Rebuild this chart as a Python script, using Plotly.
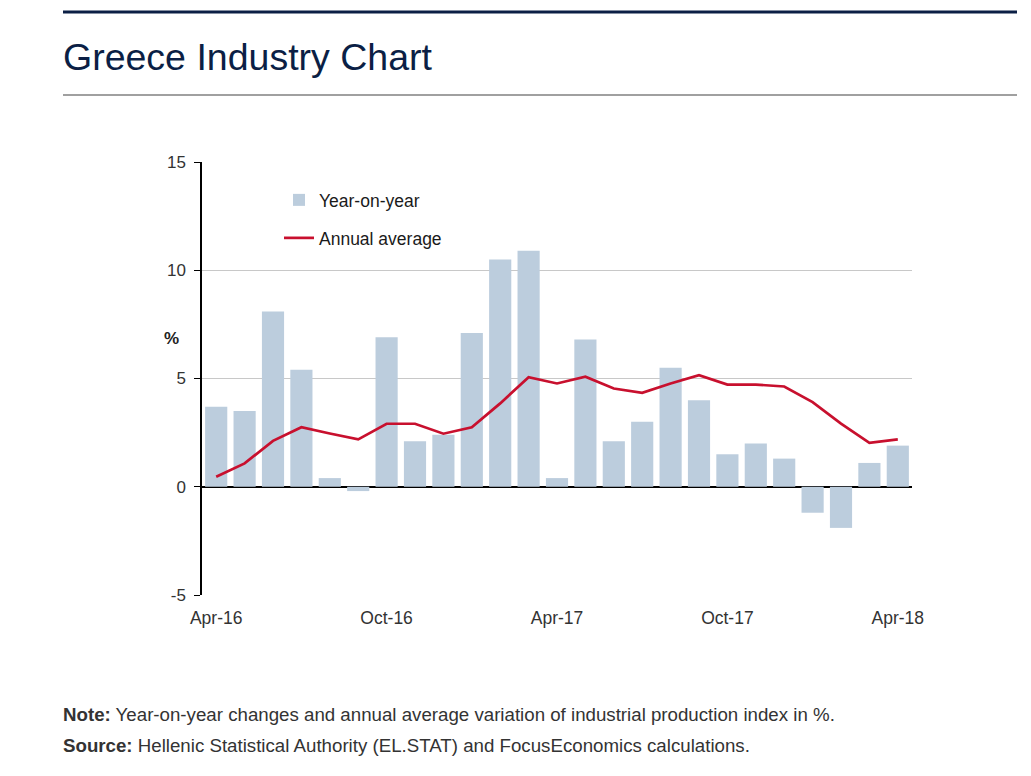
import plotly.graph_objects as go

months = ["Apr-16", "May-16", "Jun-16", "Jul-16", "Aug-16", "Sep-16", "Oct-16", "Nov-16",
          "Dec-16", "Jan-17", "Feb-17", "Mar-17", "Apr-17", "May-17", "Jun-17", "Jul-17",
          "Aug-17", "Sep-17", "Oct-17", "Nov-17", "Dec-17", "Jan-18", "Feb-18", "Mar-18", "Apr-18"]
year_on_year = [3.7, 3.5, 8.1, 5.4, 0.4, -0.2, 6.9, 2.1, 2.4, 7.1, 10.5, 10.9, 0.4,
                6.8, 2.1, 3.0, 5.5, 4.0, 1.5, 2.0, 1.3, -1.2, -1.9, 1.1, 1.9]
annual_average = [0.46, 1.08, 2.12, 2.75, 2.46, 2.19, 2.91, 2.91, 2.45, 2.75, 3.85, 5.06, 4.77,
                  5.08, 4.54, 4.34, 4.77, 5.15, 4.72, 4.72, 4.63, 3.91, 2.92, 2.03, 2.19]
tick_labels = ["Apr-16", "Oct-16", "Apr-17", "Oct-17", "Apr-18"]
y_ticks = [-5, 0, 5, 10, 15]
y_tick_text = ["-5", "0", "5", "10", "15"]

# page geometry (body has an 8px margin around the plot div)
W, H, OFF = 1031, 776, 8
FW, FH = W - 2 * OFF, H - 2 * OFF
L, R, T, B = 202, 912, 162, 595  # plot area in page pixels

FONT = "Liberation Sans, Arial, sans-serif"

def px(x):
    return (x - L) / (R - L)

def py(y):
    return (B - y) / (B - T)

fig = go.Figure()
fig.add_trace(go.Bar(x=months, y=year_on_year, name="Year-on-year", legend="legend",
                     marker=dict(color="#bccddd", line=dict(width=0))))
fig.add_trace(go.Scatter(x=months, y=annual_average, name="Annual average", mode="lines",
                         legend="legend2", line=dict(color="#c8102e", width=2.7)))

legend_common = dict(xanchor="left", yanchor="middle", bgcolor="rgba(0,0,0,0)",
                     font=dict(size=17.5, color="#1a1a1a", family=FONT),
                     itemwidth=30, tracegroupgap=0)

fig.update_layout(
    width=FW, height=FH,
    margin=dict(l=L - OFF, r=FW - (R - OFF), t=T - OFF, b=FH - (B - OFF), pad=0),
    paper_bgcolor="white", plot_bgcolor="white",
    font=dict(family=FONT, color="#333333", size=17),
    bargap=0.22,
    showlegend=True,
    legend=dict(x=px(279), y=py(200), **legend_common),
    legend2=dict(x=px(279), y=py(238), **legend_common),
    xaxis=dict(type="category", categoryorder="array", categoryarray=months,
               range=[-0.5, len(months) - 0.5],
               tickmode="array", tickvals=tick_labels, ticktext=tick_labels,
               showgrid=False, showline=False, ticks="", ticklabelstandoff=10,
               tickfont=dict(size=17.5, color="#333333"), zeroline=False),
    yaxis=dict(range=[-5, 15], tickmode="array", tickvals=y_ticks, ticktext=y_tick_text,
               showgrid=True, gridcolor="#c8c8c8", gridwidth=1,
               zeroline=True, zerolinecolor="#000000", zerolinewidth=1.5,
               showline=True, linecolor="#000000", linewidth=1.5,
               ticks="outside", ticklen=6, tickcolor="#000000", ticklabelstandoff=5,
               tickfont=dict(size=17, color="#333333")),
)

# header lines
fig.add_shape(type="line", xref="paper", yref="paper",
              x0=px(63), x1=px(1017), y0=py(12), y1=py(12),
              line=dict(color="#0b1f45", width=3))
fig.add_shape(type="line", xref="paper", yref="paper",
              x0=px(63), x1=px(1017), y0=py(95), y1=py(95),
              line=dict(color="#a0a0a0", width=2))

fig.add_annotation(text="Greece Industry Chart", xref="paper", yref="paper",
                   x=px(61), y=py(57), xanchor="left", yanchor="middle", showarrow=False,
                   font=dict(size=37.5, color="#0b1f45", family=FONT))
fig.add_annotation(text="<b>%</b>", xref="paper", yref="paper",
                   x=px(171), y=py(338), xanchor="center", yanchor="middle", showarrow=False,
                   font=dict(size=17, color="#222222", family=FONT))
fig.add_annotation(text="<b>Note:</b> Year-on-year changes and annual average variation of industrial production index in %.",
                   xref="paper", yref="paper", x=px(61), y=py(714), xanchor="left", yanchor="middle",
                   showarrow=False, font=dict(size=18.7, color="#333333", family=FONT))
fig.add_annotation(text="<b>Source:</b> Hellenic Statistical Authority (EL.STAT) and FocusEconomics calculations.",
                   xref="paper", yref="paper", x=px(61), y=py(745), xanchor="left", yanchor="middle",
                   showarrow=False, font=dict(size=18.7, color="#333333", family=FONT))

fig.write_html("out.html")
